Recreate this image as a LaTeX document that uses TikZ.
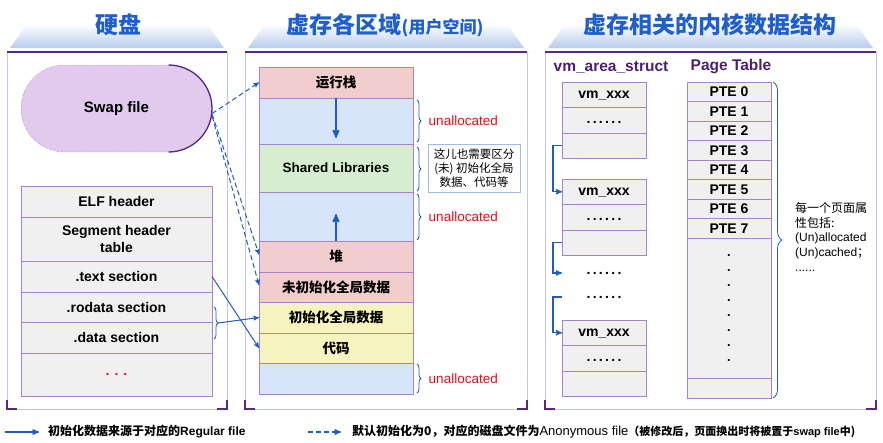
\documentclass[tikz,border=0pt]{standalone}
\usepackage{fontspec}
\setmainfont{Liberation Sans}
\newfontfamily\cjk{Noto Sans CJK SC}
\usepackage{tikz}
\usetikzlibrary{positioning, arrows, shapes.misc, decorations.pathreplacing}
\definecolor{hdrblue}{RGB}{184,204,236}
\definecolor{titleblue}{RGB}{30,94,205}
\definecolor{framepurple}{RGB}{88,40,130}
\definecolor{frameside}{RGB}{190,200,236}
\definecolor{cellline}{RGB}{168,128,208}
\definecolor{cellgray}{RGB}{240,240,240}
\definecolor{cellpink}{RGB}{242,205,205}
\definecolor{cellblue}{RGB}{214,229,250}
\definecolor{cellgreen}{RGB}{215,237,208}
\definecolor{cellyellow}{RGB}{246,243,190}
\definecolor{swapfill}{RGB}{225,202,237}
\definecolor{swapline}{RGB}{130,90,170}
\definecolor{linkblue}{RGB}{32,92,190}
\definecolor{labelpurple}{RGB}{78,30,112}
\definecolor{redtext}{RGB}{224,16,26}
\definecolor{noteline}{RGB}{160,188,230}
\newcommand\sixdots{.\kern2.3pt.\kern2.3pt.\kern2.3pt.\kern2.3pt.\kern2.3pt.}
\tikzset{>=stealth', x=1pt, y=-1pt,
	paneltitle/.style={font=\cjk\bfseries\fontsize{23}{26}\selectfont, text=titleblue},
	cell/.style={draw=cellline, line width=0.9pt, fill=cellgray, inner sep=0pt, outer sep=0pt, align=center, font=\bfseries\fontsize{13.5}{16.5}\selectfont},
	cjkcell/.style={cell, font=\cjk\bfseries\fontsize{13.5}{16.5}\selectfont},
	elfcell/.style={cell, minimum width=191pt, font=\bfseries\fontsize{14}{17}\selectfont},
	memcell/.style={cell, minimum width=154pt},
	memcjk/.style={cjkcell, minimum width=154pt},
	vmcell/.style={cell, minimum width=84pt, minimum height=25.5pt, text height=10pt, text depth=3.5pt, font=\bfseries\fontsize{14}{16}\selectfont},
	ptcell/.style={cell, minimum width=84pt, minimum height=19.5pt, font=\bfseries\fontsize{14}{16}\selectfont},
	swapfile/.style={rounded rectangle, draw=swapline, densely dotted, fill=swapfill, minimum width=191pt, minimum height=87pt, inner sep=0pt, font=\bfseries\fontsize{15}{18}\selectfont},
	link/.style={linkblue, line width=1pt, ->},
	dashlink/.style={link, dash pattern=on 5pt off 3pt},
	growarrow/.style={linkblue, line width=1.8pt, ->},
	curly/.style={linkblue, line width=0.8pt, decorate, decoration={brace, amplitude=4pt}},
	unalloc/.style={text=redtext, font=\fontsize{13.5}{16}\selectfont, right=8pt, midway},
	notebox/.style={draw=noteline, fill=white, line width=0.8pt, minimum width=92pt, minimum height=48pt, inner sep=1pt, align=center, font=\cjk\fontsize{11.5}{13.8}\selectfont},
	pagenote/.style={align=left, font=\fontsize{12}{14.7}\selectfont, inner sep=0pt},
	structlabel/.style={text=labelpurple, font=\bfseries\fontsize{15.5}{18}\selectfont},
	legend/.style={font=\bfseries\fontsize{12}{14}\selectfont, inner sep=2pt}
}

\begin{document}
\begin{tikzpicture}
	\useasboundingbox (0,0) rectangle (883,442);
	\shade[top color=white, bottom color=hdrblue] (10,48) -- (224,48) -- (207,24) -- (27,24) -- cycle;
	\shade[top color=white, bottom color=hdrblue] (248,48) -- (524,48) -- (507,24) -- (265,24) -- cycle;
	\shade[top color=white, bottom color=hdrblue] (548,48) -- (873,48) -- (856,24) -- (565,24) -- cycle;
	\draw[frameside, line width=0.8pt] (7,52) rectangle (227,409) (245,52) rectangle (527,409) (545,52) rectangle (876,409);
	\draw[framepurple, line width=2.5pt] (7,52) -- (227,52) (245,52) -- (527,52) (545,52) -- (876,52);
	\draw[framepurple, line width=1.2pt] (7,400) |- (17,409) (227,400) |- (217,409) (245,400) |- (255,409) (527,400) |- (517,409) (545,400) |- (555,409) (876,400) |- (866,409);

	\node[paneltitle] (DiskTitle) at (118,25) {硬盘};
	\node[paneltitle] (VmTitle) at (385,25) {虚存各区域{\fontsize{17}{20}\selectfont(用户空间)}};
	\node[paneltitle] (KernelTitle) at (710,25) {虚存相关的内核数据结构};

	\node[swapfile] (Swap) at (116.5,108.5) {Swap file};
	\draw[framepurple, line width=1.3pt] (168.5,65) arc[start angle=-90, end angle=90, radius=43.5];

	\node[elfcell, minimum height=31pt, anchor=north] (ElfHeader) at (116.5,186) {ELF header};
	\node[elfcell, minimum height=44pt, below=0pt of ElfHeader] (SegTable) {Segment header\\table};
	\node[elfcell, minimum height=31pt, below=0pt of SegTable] (TextSec) {.text section};
	\node[elfcell, minimum height=30pt, below=0pt of TextSec] (RodataSec) {.rodata section};
	\node[elfcell, minimum height=31pt, below=0pt of RodataSec] (DataSec) {.data section};
	\node[elfcell, minimum height=43pt, below=0pt of DataSec] (ElfMore) {\textcolor{redtext}{.\kern5pt.\kern5pt.}};
	\draw[curly] ([xshift=2pt, yshift=-15pt]RodataSec.north east) -- ([xshift=2pt, yshift=14pt]DataSec.south east);
	\coordinate (RoTip) at (218,323);

	\node[memcjk, fill=cellpink, minimum height=31pt, anchor=north] (Stack) at (336,67) {运行栈};
	\node[memcell, fill=cellblue, minimum height=46pt, below=0pt of Stack] (GapA) {};
	\node[memcell, fill=cellgreen, minimum height=48pt, below=0pt of GapA] (Shared) {Shared Libraries};
	\node[memcell, fill=cellblue, minimum height=49pt, below=0pt of Shared] (GapB) {};
	\node[memcjk, fill=cellpink, minimum height=31pt, below=0pt of GapB] (Heap) {堆};
	\node[memcjk, fill=cellpink, minimum height=30pt, below=0pt of Heap] (Bss) {未初始化全局数据};
	\node[memcjk, fill=cellyellow, minimum height=31pt, below=0pt of Bss] (InitData) {初始化全局数据};
	\node[memcjk, fill=cellyellow, minimum height=30pt, below=0pt of InitData] (Code) {代码};
	\node[memcell, fill=cellblue, minimum height=31pt, below=0pt of Code] (GapC) {};
	\coordinate (StackTip) at (336,138);
	\coordinate (HeapTip) at (336,214);
	\draw[growarrow] (Stack.south) -- (StackTip);
	\draw[growarrow] (Heap.north) -- (HeapTip);

	\draw[curly] ([xshift=4pt, yshift=-2pt]GapA.north east) -- ([xshift=4pt, yshift=2pt]GapA.south east) node[unalloc] {unallocated};
	\draw[curly] ([xshift=4pt, yshift=-3pt]Shared.north east) -- ([xshift=4pt, yshift=1pt]Shared.south east);
	\draw[curly] ([xshift=4pt, yshift=-2pt]GapB.north east) -- ([xshift=4pt, yshift=1pt]GapB.south east) node[unalloc] {unallocated};
	\draw[curly] ([xshift=4pt, yshift=-1pt]GapC.north east) -- ([xshift=4pt, yshift=1pt]GapC.south east) node[unalloc] {unallocated};
	\node[notebox] (Note) at (474,168) {这儿也需要区分\\(未) 初始化全局\\数据、代码等};

	\draw[dashlink] ([yshift=-5pt]Swap.east) -- (Stack.west);
	\draw[dashlink] ([yshift=-6pt]Swap.east) -- ([yshift=2pt]Heap.west);
	\draw[dashlink] ([yshift=-8pt]Swap.east) -- ([yshift=2pt]Bss.west);
	\draw[link] (RoTip) -- (InitData.west);
	\draw[link] (TextSec.east) -- (Code.west);

	\node[structlabel] (VmLabel) at (611,67) {vm\_area\_struct};
	\node[structlabel] (PtLabel) at (731,67) {Page Table};
	\node[vmcell, anchor=north] (VmA1) at (604,82) {vm\_xxx};
	\node[vmcell, below=0pt of VmA1] (VmA2) {\sixdots};
	\node[vmcell, below=0pt of VmA2] (VmA3) {};
	\node[vmcell, anchor=north] (VmB1) at (604,179) {vm\_xxx};
	\node[vmcell, below=0pt of VmB1] (VmB2) {\sixdots};
	\node[vmcell, below=0pt of VmB2] (VmB3) {};
	\node[font=\bfseries\fontsize{14}{16}\selectfont] (DotsA) at (604,273) {\sixdots};
	\node[font=\bfseries\fontsize{14}{16}\selectfont] (DotsB) at (604,297) {\sixdots};
	\node[vmcell, anchor=north] (VmC1) at (604,320) {vm\_xxx};
	\node[vmcell, below=0pt of VmC1] (VmC2) {\sixdots};
	\node[vmcell, below=0pt of VmC2] (VmC3) {};
	\draw[link, line width=1.2pt] (VmA3.west) -- ++(-9,0) |- (VmB1.west);
	\draw[link, line width=1.2pt] (VmB3.west) -- ++(-9,0) |- (DotsA.west -| VmB3.west);
	\draw[link, line width=1.2pt] (DotsB.west -| VmC1.west) -- ++(-9,0) |- (VmC1.west);

	\node[ptcell, anchor=north] (Pte0) at (729,82) {PTE 0};
	\node[ptcell, below=0pt of Pte0] (Pte1) {PTE 1};
	\node[ptcell, below=0pt of Pte1] (Pte2) {PTE 2};
	\node[ptcell, below=0pt of Pte2] (Pte3) {PTE 3};
	\node[ptcell, below=0pt of Pte3] (Pte4) {PTE 4};
	\node[ptcell, below=0pt of Pte4] (Pte5) {PTE 5};
	\node[ptcell, below=0pt of Pte5] (Pte6) {PTE 6};
	\node[ptcell, below=0pt of Pte6] (Pte7) {PTE 7};
	\node[ptcell, minimum height=140pt, below=0pt of Pte7, font=\bfseries\fontsize{13}{15}\selectfont] (PtMore) {.\\.\\.\\.\\.\\.\\.\\.};
	\node[ptcell, minimum height=20pt, below=0pt of PtMore] (PtLast) {};
	\draw[curly, decoration={brace, amplitude=9pt}] ([xshift=2pt]Pte0.north east) -- ([xshift=2pt]PtLast.south east);
	\node[pagenote, anchor=north west] (PtNote) at (795,202) {{\cjk 每一个页面属}\\{\cjk 性包括:}\\(Un)allocated\\(Un)cached{\cjk ；}\\......};

	\coordinate (SolidFrom) at (5,432);
	\coordinate (SolidTo) at (39,432);
	\draw[link, line width=1.3pt] (SolidFrom) -- (SolidTo);
	\node[legend, anchor=west] (SolidText) at (46,432) {{\cjk 初始化数据来源于对应的}Regular file};
	\coordinate (DashFrom) at (308,432);
	\coordinate (DashTo) at (341,432);
	\draw[dashlink, line width=1.3pt] (DashFrom) -- (DashTo);
	\node[legend, anchor=west] (DashText) at (350,432) {{\cjk 默认初始化为0，对应的磁盘文件为}{\mdseries\fontsize{13}{14}\selectfont Anonymous file}{\cjk\fontsize{11}{12}\selectfont （被修改后，页面换出时将被置于}{\fontsize{11}{12}\selectfont swap file}{\cjk\fontsize{11}{12}\selectfont 中)}};
\end{tikzpicture}
\end{document}
